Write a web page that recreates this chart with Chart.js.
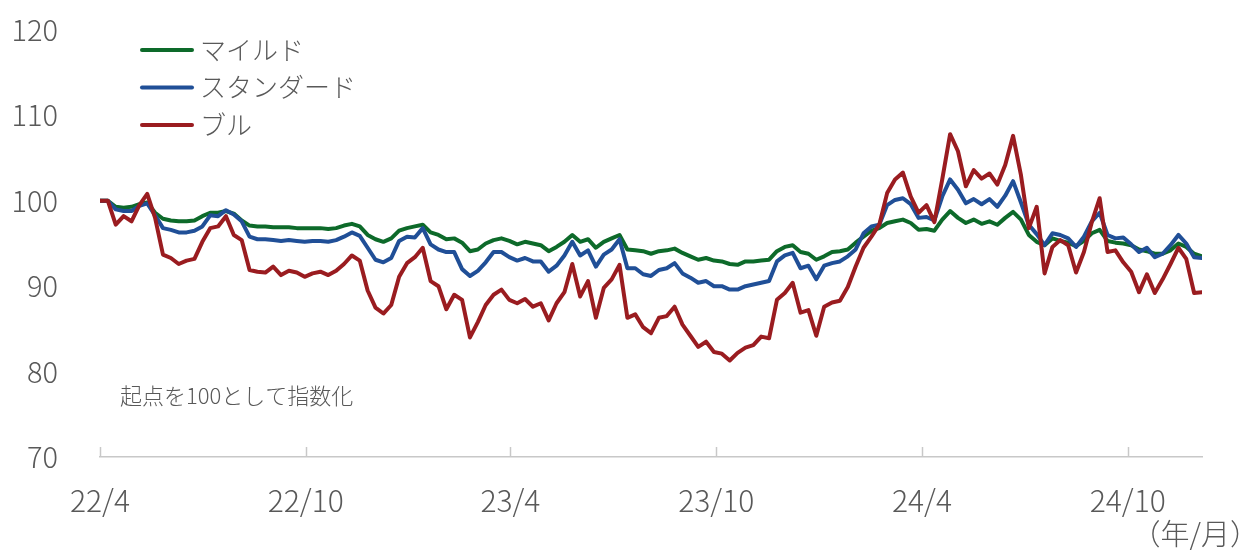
<!DOCTYPE html>
<html lang="ja">
<head>
<meta charset="utf-8">
<title>指数推移</title>
<script src="https://cdn.jsdelivr.net/npm/chart.js@4.4.1/dist/chart.umd.min.js"></script>
<style>
  html, body { margin: 0; padding: 0; background: #fff; }
  #wrap { width: 1245px; height: 550px; }
</style>
</head>
<body>
<div id="wrap"><canvas id="mainChart" width="1245" height="550"></canvas></div>
<script>
// weekly closes, indexed to 100 at the start
const START_DATE = '2022-04-01';
const STEP_DAYS = 7;

const tickDates = ['2022-04-01', '2022-10-01', '2023-04-01', '2023-10-01', '2024-04-01', '2024-10-01'];
const tickLabels = ['22/4', '22/10', '23/4', '23/10', '24/4', '24/10'];
const yTicks = [70, 80, 90, 100, 110, 120];

const seriesLabels = ['マイルド', 'スタンダード', 'ブル'];

const mild = [
    100, 100, 99.3, 99.2, 99.3, 99.6, 99.8, 98.6, 97.9, 97.7,
    97.6, 97.6, 97.7, 98.2, 98.6, 98.6, 98.8, 98.5, 97.7, 97.1,
    97.0, 97.0, 96.9, 96.9, 96.9, 96.8, 96.8, 96.8, 96.8, 96.7,
    96.8, 97.1, 97.3, 97.0, 96.0, 95.5, 95.2, 95.6, 96.5, 96.8,
    97.0, 97.2, 96.3, 96.0, 95.5, 95.6, 95.1, 94.1, 94.3, 95.0,
    95.4, 95.6, 95.3, 94.9, 95.2, 95.0, 94.8, 94.1, 94.6, 95.2,
    96.0, 95.2, 95.5, 94.5, 95.2, 95.6, 96.0, 94.3, 94.2, 94.1,
    93.8, 94.1, 94.2, 94.4, 93.9, 93.5, 93.1, 93.3, 93.0, 92.9,
    92.6, 92.5, 92.9, 92.9, 93.0, 93.1, 94.1, 94.6, 94.8, 94.0,
    93.8, 93.1, 93.5, 94.0, 94.1, 94.3, 95.1, 95.8, 96.5, 96.8,
    97.4, 97.6, 97.8, 97.4, 96.6, 96.7, 96.5, 97.8, 98.8, 98.0,
    97.4, 97.8, 97.3, 97.6, 97.2, 98.0, 98.7, 97.8, 96.0, 95.2,
    94.8, 95.6, 95.3, 95.1, 94.7, 95.3, 96.2, 96.6, 95.3, 95.1,
    95.0, 94.8, 94.3, 94.1, 93.8, 93.8, 94.2, 95.0, 94.6, 93.8, 93.5
];

const standard = [
    100, 100, 99.0, 98.8, 98.8, 99.4, 99.7, 98.3, 96.8, 96.6,
    96.3, 96.3, 96.5, 97.0, 98.3, 98.2, 98.9, 98.4, 97.6, 95.8,
    95.5, 95.5, 95.4, 95.3, 95.4, 95.3, 95.2, 95.3, 95.3, 95.2,
    95.4, 95.8, 96.3, 95.9, 94.5, 93.1, 92.8, 93.3, 95.3, 95.8,
    95.7, 96.8, 94.9, 94.3, 94.0, 94.0, 92.0, 91.2, 91.8, 92.8,
    94.0, 94.0, 93.4, 93.0, 93.3, 92.9, 92.9, 91.7, 92.4, 93.6,
    95.2, 93.6, 94.2, 92.3, 93.7, 94.3, 95.5, 92.1, 92.1, 91.4,
    91.2, 91.9, 92.1, 92.7, 91.5, 91.0, 90.4, 90.6, 90.0, 90.0,
    89.6, 89.6, 90.0, 90.2, 90.4, 90.6, 92.9, 93.6, 93.9, 92.1,
    92.4, 90.8, 92.4, 92.7, 92.9, 93.5, 94.3, 96.2, 97.0, 97.2,
    99.5, 100.1, 100.3, 99.6, 98.0, 98.1, 97.7, 100.5, 102.5, 101.3,
    99.7, 100.2, 99.6, 100.2, 99.3, 100.6, 102.3, 99.8, 97.2, 96.1,
    94.8, 96.2, 96.0, 95.6, 94.6, 95.8, 97.6, 98.6, 96.0, 95.6,
    95.7, 94.9, 94.0, 94.5, 93.4, 93.8, 94.8, 96.0, 95.0, 93.4, 93.3
];

const bull = [
    100, 100, 97.2, 98.2, 97.6, 99.5, 100.8, 98.0, 93.7, 93.3,
    92.6, 93.0, 93.2, 95.2, 96.8, 97.0, 98.2, 96.0, 95.4, 91.9,
    91.7, 91.6, 92.3, 91.3, 91.8, 91.6, 91.1, 91.5, 91.7, 91.3,
    91.8, 92.6, 93.6, 93.0, 89.5, 87.5, 86.8, 87.8, 91.1, 92.7,
    93.4, 94.5, 90.6, 90.0, 87.3, 89.0, 88.4, 84.0, 85.8, 87.8,
    89.0, 89.6, 88.4, 88.0, 88.5, 87.6, 88.0, 86.0, 88.0, 89.3,
    92.6, 88.8, 90.6, 86.3, 89.8, 90.8, 92.5, 86.3, 86.7, 85.2,
    84.5, 86.3, 86.5, 87.6, 85.5, 84.2, 82.9, 83.5, 82.3, 82.1,
    81.3, 82.2, 82.8, 83.1, 84.1, 83.9, 88.4, 89.2, 90.4, 86.9,
    87.2, 84.2, 87.6, 88.1, 88.3, 89.9, 92.3, 94.5, 95.8, 97.2,
    100.9, 102.5, 103.3, 100.5, 98.6, 99.5, 97.5, 102.5, 107.8, 105.8,
    101.7, 103.6, 102.6, 103.2, 101.9, 104.2, 107.6, 103.0, 96.8, 99.3,
    91.5, 94.6, 95.4, 94.8, 91.6, 94.0, 97.5, 100.3, 94.0, 94.2,
    92.8, 91.7, 89.3, 91.4, 89.2, 90.8, 92.6, 94.5, 93.2, 89.2, 89.3
];

const noteText = '起点を100として指数化';
const unitText = '（年/月）';

const COLORS = {
    MILD: '#0d6a2a',
    STANDARD: '#204f97',
    BULL: '#9a1c20',
    TEXT: '#595959',
    AXIS: '#c8c8c8'
};
const FONT = "'Noto Sans CJK JP', 'Noto Sans', sans-serif";
const WEIGHT = '300';

function dayOf(date) {
    return Math.round((Date.parse(date) - Date.parse(START_DATE)) / 86400000);
}

function toPoints(values) {
    return values.map((v, i) => ({ x: i * STEP_DAYS, y: v }));
}

const tickDays = tickDates.map(dayOf);
const lastDay = (mild.length - 1) * STEP_DAYS;

// small upward tick marks on the x axis, legend and notes inside the plot
const decorPlugin = {
    id: 'decor',
    afterDraw(chart) {
        const { ctx, chartArea } = chart;
        const xs = chart.scales.x;
        ctx.save();

        ctx.strokeStyle = COLORS.AXIS;
        ctx.lineWidth = 1.5;
        tickDays.forEach(d => {
            const px = Math.round(xs.getPixelForValue(d)) + 0.5;
            ctx.beginPath();
            ctx.moveTo(px, chartArea.bottom);
            ctx.lineTo(px, chartArea.bottom - 10);
            ctx.stroke();
        });

        const legendX = chartArea.left + 40;
        const legendY = chartArea.top + 20;
        chart.data.datasets.forEach((ds, i) => {
            const y = legendY + i * 37.5;
            ctx.strokeStyle = ds.borderColor;
            ctx.lineWidth = 4;
            ctx.lineCap = 'round';
            ctx.beginPath();
            ctx.moveTo(legendX + 2, y);
            ctx.lineTo(legendX + 52, y);
            ctx.stroke();
            ctx.fillStyle = COLORS.TEXT;
            ctx.font = `${WEIGHT} 26px ${FONT}`;
            ctx.textAlign = 'left';
            ctx.textBaseline = 'middle';
            ctx.fillText(ds.label, legendX + 60, y);
        });

        ctx.fillStyle = COLORS.TEXT;
        ctx.font = `${WEIGHT} 22px ${FONT}`;
        ctx.textAlign = 'left';
        ctx.textBaseline = 'middle';
        ctx.fillText(noteText, chartArea.left + 20, 396);

        ctx.font = `${WEIGHT} 29px ${FONT}`;
        ctx.textAlign = 'right';
        ctx.fillText(unitText, 1259, 534);

        ctx.restore();
    }
};

const lineStyle = {
    borderWidth: 4,
    pointRadius: 0,
    tension: 0,
    fill: false,
    borderJoinStyle: 'round',
    borderCapStyle: 'round'
};

const ctx = document.getElementById('mainChart').getContext('2d');
new Chart(ctx, {
    type: 'line',
    data: {
        datasets: [
            { label: seriesLabels[0], data: toPoints(mild), borderColor: COLORS.MILD, order: 3, ...lineStyle },
            { label: seriesLabels[1], data: toPoints(standard), borderColor: COLORS.STANDARD, order: 2, ...lineStyle },
            { label: seriesLabels[2], data: toPoints(bull), borderColor: COLORS.BULL, order: 1, ...lineStyle }
        ]
    },
    options: {
        responsive: false,
        animation: false,
        events: [],
        layout: { padding: { top: 30, right: 43, left: 0, bottom: 0 } },
        plugins: {
            legend: { display: false },
            tooltip: { enabled: false }
        },
        scales: {
            x: {
                type: 'linear',
                min: 0,
                max: lastDay,
                afterBuildTicks: scale => {
                    scale.ticks = tickDays.map(v => ({ value: v }));
                },
                afterFit: scale => { scale.height = 93; },
                grid: { display: false, drawTicks: false },
                border: { display: true, color: COLORS.AXIS, width: 1.5 },
                ticks: {
                    autoSkip: false,
                    maxRotation: 0,
                    padding: 26,
                    color: COLORS.TEXT,
                    font: { family: FONT, size: 30, weight: WEIGHT },
                    callback: value => tickLabels[tickDays.indexOf(value)]
                }
            },
            y: {
                min: 70,
                max: 120,
                afterBuildTicks: scale => {
                    scale.ticks = yTicks.map(v => ({ value: v }));
                },
                afterFit: scale => { scale.width = 100; },
                // tick marks are hidden with the grid; their length only sets the label gap
                grid: { display: false, drawTicks: true, tickLength: 38 },
                border: { display: false },
                ticks: {
                    padding: 4,
                    color: COLORS.TEXT,
                    font: { family: FONT, size: 29, weight: WEIGHT }
                }
            }
        }
    },
    plugins: [decorPlugin]
});
</script>
</body>
</html>
